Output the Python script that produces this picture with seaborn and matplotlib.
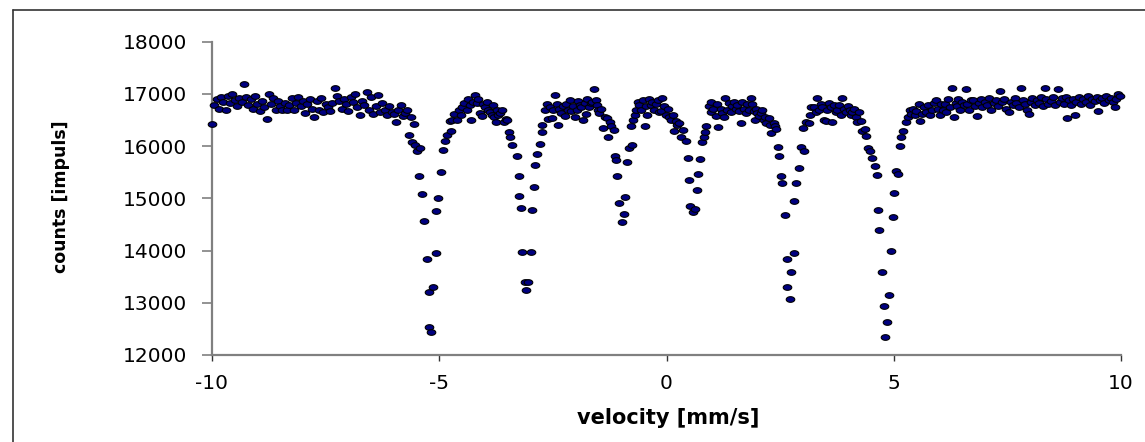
import numpy as np
import pandas as pd
import matplotlib
matplotlib.use("Agg")
import matplotlib.pyplot as plt
from matplotlib.path import Path
from matplotlib.lines import Line2D
import seaborn as sns

# ---- data (velocity in mm/s, counts in impulses) ----
v_left = [-10.00, -9.95, -9.90, -9.85, -9.80, -9.75, -9.70, -9.65, -9.60, -9.55,
          -9.50, -9.45, -9.40, -9.35, -9.30, -9.25, -9.20, -9.15, -9.10, -9.05,
          -9.00, -8.95, -8.90, -8.85, -8.80, -8.75, -8.70, -8.65, -8.60, -8.55,
          -8.50, -8.45, -8.40, -8.35, -8.30, -8.25, -8.20, -8.15, -8.10, -8.05,
          -8.00, -7.95, -7.90, -7.85, -7.80, -7.75, -7.70, -7.65, -7.60, -7.55,
          -7.50, -7.45, -7.40, -7.35, -7.30, -7.25, -7.20, -7.15, -7.10, -7.05,
          -7.00, -6.95, -6.90, -6.85, -6.80, -6.75, -6.70, -6.65, -6.60, -6.55,
          -6.50, -6.45, -6.40, -6.35, -6.30, -6.25, -6.20, -6.15, -6.10, -6.05]
c_left = [16420, 16780, 16900, 16720, 16950, 16850, 16700, 16960, 16820, 16990,
          16880, 16760, 16930, 16840, 17190, 16950, 16780, 16900, 16720, 16960,
          16800, 16680, 16860, 16750, 16520, 16990, 16800, 16930, 16700, 16860,
          16760, 16690, 16830, 16700, 16780, 16920, 16690, 16820, 16950, 16760,
          16870, 16640, 16800, 16900, 16710, 16560, 16860, 16700, 16920, 16660,
          16800, 16740, 16680, 16830, 17110, 16960, 16860, 16720, 16900, 16800,
          16680, 16950, 16840, 16990, 16750, 16600, 16870, 16780, 17040, 16700,
          16940, 16620, 16760, 16980, 16650, 16820, 16700, 16600, 16760, 16650]

v_dip1 = [-6.00, -5.95, -5.90, -5.85, -5.80, -5.75, -5.70, -5.66, -5.62, -5.60,
          -5.56, -5.53, -5.48, -5.44, -5.42, -5.38, -5.33, -5.28, -5.23, -5.22,
          -5.18, -5.13, -5.08, -5.07, -5.02, -4.97, -4.92]
c_dip1 = [16620, 16470, 16700, 16780, 16580, 16630, 16700, 16210, 16560, 16070,
          16420, 16030, 15910, 15430, 15960, 15080, 14570, 13840, 13200, 12530,
          12440, 13310, 13950, 14760, 15000, 15510, 15930]

v_dip2 = [-4.88, -4.82, -4.77, -4.75, -4.72, -4.67, -4.62, -4.57, -4.52, -4.50,
          -4.45, -4.40, -4.36, -4.32, -4.30, -4.25, -4.22, -4.17, -4.14, -4.11,
          -4.06, -4.03, -4.00, -3.96, -3.92, -3.88, -3.85, -3.82, -3.79, -3.76,
          -3.73, -3.71, -3.66, -3.62, -3.57, -3.53, -3.50, -3.46, -3.45, -3.41,
          -3.30, -3.25, -3.24, -3.21, -3.17, -3.11, -3.10, -3.05, -2.99, -2.95,
          -2.91, -2.90, -2.84, -2.79, -2.74, -2.73, -2.68]
c_dip2 = [16090, 16210, 16490, 16290, 16500, 16620, 16500, 16700, 16600, 16740,
          16820, 16700, 16900, 16780, 16500, 16850, 16970, 16820, 16900, 16630,
          16580, 16800, 16740, 16840, 16700, 16650, 16600, 16790, 16560, 16470,
          16700, 16600, 16640, 16690, 16470, 16520, 16500, 16280, 16180, 16020,
          15810, 15430, 15050, 14820, 13980, 13400, 13250, 13400, 13980, 14780,
          15210, 15640, 15850, 16040, 16280, 16400, 16690]

v_dip3 = [-2.64, -2.60, -2.56, -2.53, -2.49, -2.46, -2.42, -2.39, -2.37, -2.32,
          -2.28, -2.24, -2.21, -2.17, -2.13, -2.10, -2.06, -2.02, -1.98, -1.95,
          -1.91, -1.88, -1.84, -1.80, -1.77, -1.74, -1.71, -1.67, -1.64, -1.59,
          -1.56, -1.53, -1.50, -1.48, -1.44, -1.40, -1.36, -1.32, -1.29, -1.25,
          -1.22, -1.16, -1.13, -1.12, -1.08, -1.04, -0.98, -0.93, -0.92, -0.88,
          -0.83, -0.79, -0.77, -0.74, -0.70, -0.67, -0.63, -0.60, -0.56, -0.52,
          -0.48, -0.45, -0.42, -0.38, -0.34, -0.31, -0.27, -0.23, -0.19, -0.16,
          -0.12, -0.09, -0.05, -0.01, 0.03, 0.06, 0.10, 0.14, 0.17, 0.21, 0.24]
c_dip3 = [16800, 16520, 16750, 16530, 16700, 16980, 16800, 16410, 16710, 16630,
          16760, 16580, 16800, 16700, 16880, 16680, 16760, 16560, 16700, 16870,
          16790, 16750, 16500, 16820, 16610, 16900, 16750, 16820, 16850, 17090,
          16880, 16780, 16700, 16630, 16720, 16340, 16560, 16530, 16180, 16460,
          16390, 16310, 15810, 15730, 15430, 14920, 14540, 14700, 15030, 15700,
          15960, 16390, 16020, 16510, 16600, 16690, 16850, 16790, 16700, 16880,
          16390, 16760, 16600, 16910, 16780, 16850, 16700, 16800, 16880, 16650,
          16670, 16930, 16760, 16600, 16720, 16560, 16500, 16600, 16290, 16480, 16410]

v_dip4 = [0.28, 0.32, 0.36, 0.43, 0.48, 0.49, 0.52, 0.59, 0.63, 0.68,
          0.69, 0.73, 0.79, 0.83, 0.84, 0.88]
c_dip4 = [16440, 16180, 16310, 16100, 15780, 15350, 14860, 14730, 14790, 15160,
          15460, 15750, 16070, 16180, 16280, 16390]

v_dip5 = [0.94, 0.97, 0.99, 1.03, 1.08, 1.11, 1.14, 1.19, 1.23, 1.27,
          1.29, 1.33, 1.37, 1.41, 1.45, 1.49, 1.52, 1.56, 1.60, 1.63,
          1.67, 1.70, 1.74, 1.78, 1.81, 1.85, 1.89, 1.92, 1.95, 1.98,
          2.00, 2.04, 2.08, 2.11, 2.14, 2.17, 2.20, 2.25, 2.28, 2.30,
          2.36, 2.39, 2.42, 2.46, 2.47, 2.51, 2.55, 2.60, 2.65, 2.66,
          2.71, 2.75, 2.80, 2.81, 2.86, 2.91, 2.95, 3.00, 3.02, 3.08,
          3.13, 3.16, 3.19]
c_dip5 = [16770, 16850, 16660, 16720, 16580, 16800, 16370, 16710, 16640, 16560,
          16930, 16700, 16820, 16660, 16760, 16850, 16710, 16790, 16680, 16450,
          16850, 16720, 16640, 16800, 16700, 16930, 16800, 16680, 16500, 16720,
          16640, 16580, 16640, 16700, 16500, 16560, 16450, 16530, 16400, 16260,
          16440, 16380, 16320, 15990, 15810, 15430, 15290, 14680, 13840, 13310,
          13070, 13580, 13950, 14950, 15290, 15590, 15990, 16340, 15910, 16470,
          16440, 16600, 16740]

v_dip6 = [3.24, 3.28, 3.32, 3.36, 3.40, 3.43, 3.46, 3.50, 3.54, 3.58,
          3.61, 3.65, 3.69, 3.72, 3.76, 3.80, 3.83, 3.86, 3.90, 3.95,
          3.99, 4.03, 4.06, 4.09, 4.13, 4.16, 4.20, 4.24, 4.27, 4.31,
          4.36, 4.40, 4.43, 4.48, 4.53, 4.59, 4.63, 4.65, 4.68, 4.74,
          4.78, 4.80, 4.85, 4.89, 4.95, 4.98, 5.00, 5.05, 5.09, 5.13,
          5.17, 5.20, 5.26, 5.31, 5.35, 5.38, 5.42, 5.46, 5.50, 5.55,
          5.57, 5.62, 5.67, 5.72, 5.76, 5.80, 5.85, 5.89, 5.94, 5.98]
c_dip6 = [16750, 16650, 16920, 16690, 16800, 16750, 16500, 16490, 16700, 16820,
          16750, 16460, 16780, 16650, 16700, 16780, 16600, 16930, 16720, 16650,
          16760, 16700, 16600, 16650, 16720, 16560, 16460, 16650, 16480, 16290,
          16330, 16200, 15970, 15910, 15770, 15620, 15440, 14780, 14400, 13580,
          12930, 12340, 12640, 13150, 13990, 14640, 15100, 15520, 15460, 16000,
          16180, 16290, 16460, 16550, 16700, 16620, 16710, 16590, 16680, 16810,
          16490, 16620, 16750, 16650, 16780, 16600, 16700, 16820, 16880, 16720]

v_right = [6.01, 6.05, 6.09, 6.12, 6.16, 6.20, 6.24, 6.29, 6.32, 6.36,
           6.40, 6.42, 6.46, 6.50, 6.54, 6.58, 6.62, 6.66, 6.70, 6.75,
           6.79, 6.83, 6.87, 6.91, 6.95, 7.00, 7.05, 7.10, 7.15, 7.20,
           7.25, 7.30, 7.34, 7.38, 7.43, 7.48, 7.53, 7.57, 7.62, 7.66,
           7.70, 7.75, 7.80, 7.84, 7.88, 7.93, 7.97, 8.01, 8.05, 8.10,
           8.15, 8.20, 8.25, 8.29, 8.32, 8.36, 8.40, 8.45, 8.50, 8.55,
           8.61, 8.65, 8.70, 8.75, 8.79, 8.82, 8.86, 8.90, 8.94, 8.98,
           9.02, 9.07, 9.12, 9.17, 9.22, 9.27, 9.32, 9.37, 9.42, 9.47,
           9.49, 9.53, 9.58, 9.63, 9.68, 9.73, 9.78, 9.82, 9.86, 9.90,
           9.93, 9.97]
c_right = [16590, 16800, 16700, 16810, 16650, 16900, 16750, 17120, 16550, 16820,
           16760, 16910, 16700, 16850, 16780, 17090, 16800, 16700, 16880, 16880,
           16760, 16570, 16820, 16900, 16740, 16840, 16780, 16920, 16700, 16820,
           16880, 16760, 17060, 16840, 16900, 16720, 16650, 16850, 16780, 16920,
           16820, 16740, 17120, 16880, 16800, 16700, 16610, 16850, 16920, 16780,
           16880, 16820, 16950, 16760, 17120, 16900, 16800, 16860, 16940, 16780,
           17090, 16850, 16920, 16800, 16950, 16530, 16880, 16780, 16900, 16600,
           16850, 16940, 16800, 16900, 16850, 16960, 16780, 16900, 16860, 16950,
           16680, 16880, 16930, 16820, 16960, 16880, 16920, 16850, 16750, 16900,
           17000, 16960]

x_ticks = [-10, -5, 0, 5, 10]
y_ticks = [12000, 13000, 14000, 15000, 16000, 17000, 18000]
x_label = "velocity [mm/s]"
y_label = "counts [impuls]"

velocity = np.concatenate([v_left, v_dip1, v_dip2, v_dip3, v_dip4, v_dip5, v_dip6, v_right])
counts = np.concatenate([c_left, c_dip1, c_dip2, c_dip3, c_dip4, c_dip5, c_dip6, c_right])
df = pd.DataFrame({"velocity": velocity, "counts": counts})

# ---- style ----
sns.set_theme(style="white")
plt.rcParams["font.family"] = ["DejaVu Sans"]

W, H = 1145, 442
fig = plt.figure(figsize=(W / 100, H / 100), dpi=100)
ax = fig.add_axes([212 / W, 1 - 355 / H, (1121 - 212) / W, (355 - 41.7) / H])

# elliptical marker (wider than tall)
t = np.linspace(0, 2 * np.pi, 40)
ell = Path(np.column_stack([np.cos(t), 0.66 * np.sin(t)]), closed=True)

sns.scatterplot(data=df, x="velocity", y="counts", ax=ax, marker=ell, s=38,
                color="#000080", edgecolor="black", linewidth=0.8, legend=False,
                zorder=3, clip_on=False)

ax.set_xlim(-10, 10)
ax.set_ylim(12000, 18000)
ax.set_xticks(x_ticks)
ax.set_yticks(y_ticks)
ax.set_xticklabels([str(v) for v in x_ticks])
ax.set_yticklabels([str(v) for v in y_ticks])

for side in ("top", "right"):
    ax.spines[side].set_visible(False)
for side in ("left", "bottom"):
    ax.spines[side].set_color("#808080")
    ax.spines[side].set_linewidth(1.6)

ax.tick_params(axis="y", direction="out", length=7, width=1.2, color="#808080",
               pad=11, labelsize=14.5, labelcolor="black", left=True)
ax.tick_params(axis="x", direction="out", length=4, width=1.0, color="#333333",
               pad=10, labelsize=14.5, labelcolor="black", bottom=True)

ax.set_xlabel(x_label, fontsize=15, fontweight="bold", color="black")
ax.set_ylabel(y_label, fontsize=12.5, fontweight="bold", color="black")
ax.xaxis.set_label_coords(0.5017, -0.168)
ax.yaxis.set_label_coords(-0.156, 0.504)
ax.grid(False)
ax.set_facecolor("white")

# outer chart-area border (left and top edges visible in the reference)
fig.add_artist(Line2D([13 / W, 13 / W], [0, 1 - 10 / H], transform=fig.transFigure,
                      color="#333333", linewidth=1.2))
fig.add_artist(Line2D([13 / W, 1], [1 - 10 / H, 1 - 10 / H], transform=fig.transFigure,
                      color="#333333", linewidth=1.2))

fig.savefig("out.png", dpi=100, facecolor="white")
